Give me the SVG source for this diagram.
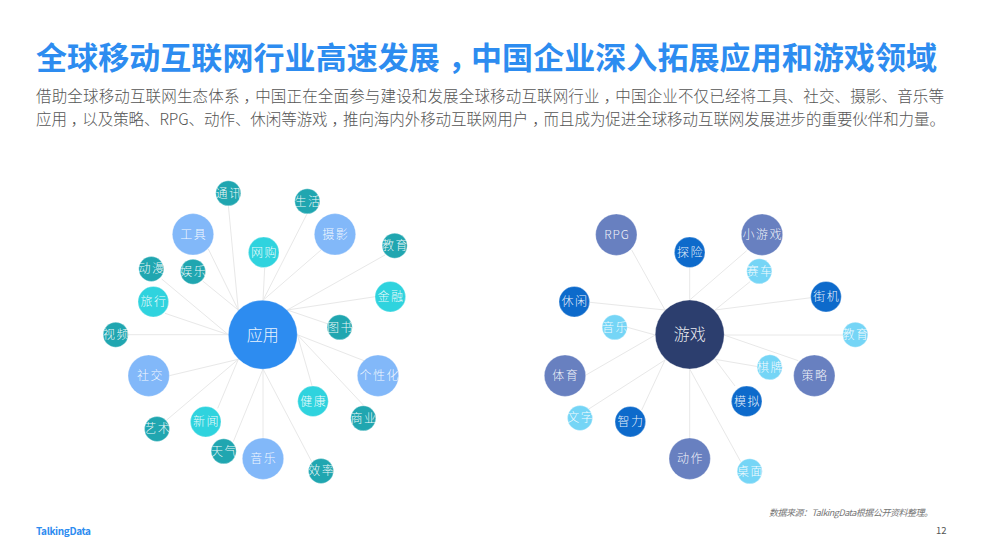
<svg xmlns="http://www.w3.org/2000/svg" width="983" height="555" viewBox="0 0 983 555">
<style>
text{font-family:"Noto Sans CJK SC","Noto Sans",sans-serif}
.c line{stroke:#e8e8e8;stroke-width:1}
circle{stroke:#fff;stroke-opacity:.5;stroke-width:.6}
.n text{fill:#fff;font-size:12px;letter-spacing:1.5px;text-anchor:middle;font-weight:300;fill-opacity:.92;transform:translate(.75px,-.5px)}
.hub text{font-size:16px;letter-spacing:0;transform:none}
.a0{fill:#2d8cf0}.a1{fill:#82b8f9}.a2{fill:#2fd3de}.a3{fill:#20a6b0}
.g0{fill:#2c3e6e}.g1{fill:#6880c0}.g2{fill:#0d6acb}.g3{fill:#75d5f6}
</style>
<rect width="983" height="555" fill="#fff"/>
<text x="36" y="69" font-size="31" font-weight="700" fill="#2d8cf0" textLength="901" lengthAdjust="spacing" dx="0 0 0 0 0 0 0 0 0 0 0 0 0 8 -8">全球移动互联网行业高速发展，中国企业深入拓展应用和游戏领域</text>
<text x="36" y="102" font-size="15.5" font-weight="300" fill="#555" textLength="908" lengthAdjust="spacing" dx="0 0 0 0 0 0 0 0 0 0 0 0 0 4 -4 0 0 0 0 0 0 0 0 0 0 0 0 0 0 0 0 0 0 0 0 0 4 -4">借助全球移动互联网生态体系，中国正在全面参与建设和发展全球移动互联网行业，中国企业不仅已经将工具、社交、摄影、音乐等</text>
<text x="36" y="125" font-size="15.5" font-weight="300" fill="#555" textLength="909" lengthAdjust="spacing" dx="0 0 4 -4 0 0 0 0 0 0 0 0 0 0 0 0 0 0 0 0 4 -4 0 0 0 0 0 0 0 0 0 0 0 4 -4">应用，以及策略、RPG、动作、休闲等游戏，推向海内外移动互联网用户，而且成为促进全球移动互联网发展进步的重要伙伴和力量。</text>
<g id="connectors" class="c">
<line x1="228.3" y1="205" x2="238.3" y2="310"/><line x1="208.3" y1="249" x2="238.3" y2="310"/><line x1="202.7" y1="281" x2="238.3" y2="310"/>
<line x1="161.7" y1="279" x2="228.3" y2="334.7"/><line x1="165" y1="313.3" x2="228.3" y2="334.7"/><line x1="127.7" y1="334.7" x2="228.3" y2="334.7"/>
<line x1="169.3" y1="375.7" x2="238.3" y2="359.3"/><line x1="166.7" y1="420" x2="238.3" y2="359.3"/><line x1="217.7" y1="408.3" x2="238.3" y2="359.3"/>
<line x1="233.3" y1="441.7" x2="263" y2="369"/><line x1="263" y1="438" x2="263" y2="369"/><line x1="311.7" y1="461.7" x2="263" y2="369"/>
<line x1="312.3" y1="386.7" x2="297.3" y2="334.7"/><line x1="363.3" y1="405" x2="297.3" y2="334.7"/><line x1="364" y1="360.7" x2="297.3" y2="334.7"/>
<line x1="328.3" y1="324" x2="287.3" y2="310"/><line x1="375.3" y1="296.7" x2="287.3" y2="310"/><line x1="385" y1="255" x2="287.3" y2="310"/>
<line x1="321" y1="250" x2="263" y2="300.3"/><line x1="307.3" y1="213.3" x2="263" y2="300.3"/><line x1="264.7" y1="267.7" x2="263" y2="300.3"/>
<line x1="631.7" y1="250" x2="665" y2="310"/><line x1="590" y1="302.3" x2="665" y2="310"/>
<line x1="746.7" y1="250.7" x2="689.7" y2="300"/><line x1="689.7" y1="267.7" x2="689.7" y2="300"/>
<line x1="750" y1="281.7" x2="715" y2="310"/><line x1="811" y1="297.7" x2="715" y2="310"/>
<line x1="843.3" y1="335" x2="724" y2="335"/><line x1="798.3" y1="360.7" x2="724" y2="335"/>
<line x1="758.3" y1="366.7" x2="715" y2="359.3"/><line x1="735" y1="386" x2="715" y2="359.3"/>
<line x1="740.7" y1="461.7" x2="689.7" y2="369"/><line x1="689.7" y1="438" x2="689.7" y2="369"/>
<line x1="641.7" y1="410" x2="665" y2="360"/><line x1="588.3" y1="409.3" x2="665" y2="360"/>
<line x1="586" y1="375" x2="655.3" y2="335"/><line x1="627.3" y1="327.3" x2="655.3" y2="335"/>
</g>
<g id="app-hub" class="n hub"><circle class="a0" cx="262.8" cy="334.7" r="34.5"/><text x="262.8" y="340.5">应用</text></g>
<g id="a-tongxun" class="n"><circle class="a3" cx="228.3" cy="193.3" r="12.5"/><text x="228.3" y="198.2">通讯</text></g>
<g id="a-shenghuo" class="n"><circle class="a3" cx="307.3" cy="201.3" r="12.5"/><text x="307.3" y="206.2">生活</text></g>
<g id="a-gongju" class="n"><circle class="a1" cx="193" cy="234.3" r="20.7"/><text x="193" y="239.2">工具</text></g>
<g id="a-sheying" class="n"><circle class="a1" cx="335" cy="234.3" r="20.7"/><text x="335" y="239.2">摄影</text></g>
<g id="a-wanggou" class="n"><circle class="a2" cx="263.7" cy="252.3" r="15.3"/><text x="263.7" y="257.2">网购</text></g>
<g id="a-jiaoyu" class="n"><circle class="a3" cx="394.7" cy="245.7" r="12.5"/><text x="394.7" y="250.6">教育</text></g>
<g id="a-dongman" class="n"><circle class="a3" cx="151.3" cy="269" r="12.5"/><text x="151.3" y="273.9">动漫</text></g>
<g id="a-yule" class="n"><circle class="a3" cx="193" cy="271.7" r="12.5"/><text x="193" y="276.6">娱乐</text></g>
<g id="a-jinrong" class="n"><circle class="a2" cx="390.3" cy="296.7" r="15.3"/><text x="390.3" y="301.6">金融</text></g>
<g id="a-lvxing" class="n"><circle class="a2" cx="153.3" cy="301.7" r="15.3"/><text x="153.3" y="306.6">旅行</text></g>
<g id="a-tushu" class="n"><circle class="a3" cx="339.7" cy="327.3" r="12.5"/><text x="339.7" y="332.2">图书</text></g>
<g id="a-shipin" class="n"><circle class="a3" cx="115.7" cy="334.7" r="12.5"/><text x="115.7" y="339.6">视频</text></g>
<g id="a-shejiao" class="n"><circle class="a1" cx="148.7" cy="375.7" r="20.7"/><text x="149.7" y="380.6">社交</text></g>
<g id="a-gexinghua" class="n"><circle class="a1" cx="378" cy="375.7" r="20.7"/><text x="379" y="380.6">个性化</text></g>
<g id="a-jiankang" class="n"><circle class="a2" cx="313" cy="401.3" r="15.3"/><text x="313" y="406.2">健康</text></g>
<g id="a-shangye" class="n"><circle class="a3" cx="363.3" cy="418.3" r="12.5"/><text x="363.3" y="423.2">商业</text></g>
<g id="a-xinwen" class="n"><circle class="a2" cx="205.7" cy="421.7" r="15.3"/><text x="205.7" y="426.6">新闻</text></g>
<g id="a-yishu" class="n"><circle class="a3" cx="157" cy="429" r="12.5"/><text x="157" y="433.9">艺术</text></g>
<g id="a-tianqi" class="n"><circle class="a3" cx="223.7" cy="451.3" r="12.5"/><text x="223.7" y="456.2">天气</text></g>
<g id="a-yinyue" class="n"><circle class="a1" cx="263" cy="458.7" r="20.7"/><text x="263" y="463.6">音乐</text></g>
<g id="a-xiaolv" class="n"><circle class="a3" cx="321" cy="471" r="12.5"/><text x="321" y="475.9">效率</text></g>
<g id="game-hub" class="n hub"><circle class="g0" cx="689.7" cy="334.5" r="34.5"/><text x="689.7" y="340.3">游戏</text></g>
<g id="g-rpg" class="n"><circle class="g1" cx="616.3" cy="234.7" r="20.7"/><text x="616.3" y="239.2" style="letter-spacing:1px">RPG</text></g>
<g id="g-xiaoyouxi" class="n"><circle class="g1" cx="762" cy="234.7" r="20.7"/><text x="762" y="239.6">小游戏</text></g>
<g id="g-tanxian" class="n"><circle class="g2" cx="689.7" cy="252.3" r="15.3"/><text x="689.7" y="257.2">探险</text></g>
<g id="g-saiche" class="n"><circle class="g3" cx="759.3" cy="271.3" r="12.5"/><text x="759.3" y="276.2">赛车</text></g>
<g id="g-jieji" class="n"><circle class="g2" cx="826" cy="296.7" r="15.3"/><text x="826" y="301.6">街机</text></g>
<g id="g-xiuxian" class="n"><circle class="g2" cx="574.3" cy="301.7" r="15.3"/><text x="574.3" y="306.6">休闲</text></g>
<g id="g-yinyue" class="n"><circle class="g3" cx="614.7" cy="327.3" r="12.5"/><text x="614.7" y="332.2">音乐</text></g>
<g id="g-jiaoyu" class="n"><circle class="g3" cx="855.3" cy="334.7" r="12.5"/><text x="855.3" y="339.6">教育</text></g>
<g id="g-qipai" class="n"><circle class="g3" cx="769.7" cy="367.3" r="12.5"/><text x="769.7" y="372.2">棋牌</text></g>
<g id="g-celue" class="n"><circle class="g1" cx="814.3" cy="375.7" r="20.7"/><text x="814.3" y="380.6">策略</text></g>
<g id="g-tiyu" class="n"><circle class="g1" cx="565" cy="375.7" r="20.7"/><text x="565" y="380.6">体育</text></g>
<g id="g-moni" class="n"><circle class="g2" cx="746.7" cy="401.3" r="15.3"/><text x="746.7" y="406.2">模拟</text></g>
<g id="g-zhili" class="n"><circle class="g2" cx="630.3" cy="421.7" r="15.3"/><text x="630.3" y="426.6">智力</text></g>
<g id="g-wenzi" class="n"><circle class="g3" cx="580" cy="418" r="12.5"/><text x="580" y="422.9">文字</text></g>
<g id="g-dongzuo" class="n"><circle class="g1" cx="689.7" cy="458.7" r="20.7"/><text x="689.7" y="463.6">动作</text></g>
<g id="g-zhuomian" class="n"><circle class="g3" cx="749.7" cy="471.3" r="12.5"/><text x="749.7" y="476.2">桌面</text></g>
<text x="769" y="516" font-size="9" font-style="italic" fill="#777" textLength="164" lengthAdjust="spacing">数据来源：TalkingData根据公开资料整理。</text>
<text x="36" y="535" font-size="10" font-weight="700" fill="#2d8cf0" textLength="55" lengthAdjust="spacing">TalkingData</text>
<text x="936" y="534" font-size="9.5" fill="#555">12</text>
</svg>
